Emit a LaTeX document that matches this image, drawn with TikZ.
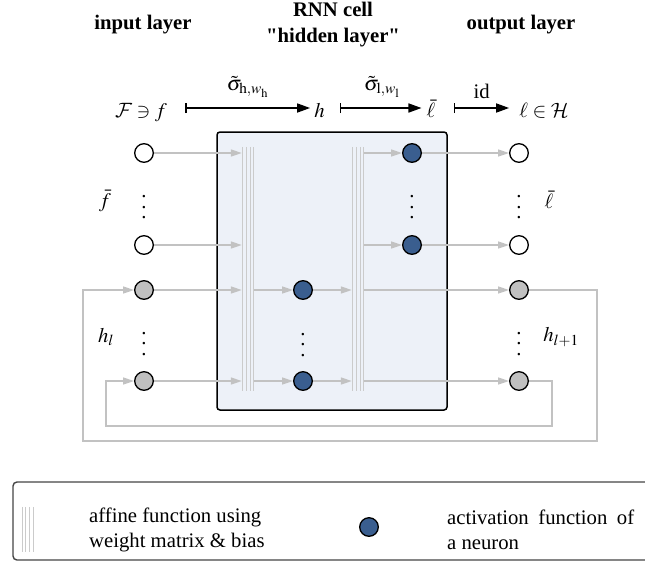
\documentclass[tikz,border=0pt]{standalone}
\usepackage{mathptmx}
\usepackage{fontspec}
\setmainfont{Liberation Serif}
\newfontfamily\qfont{Liberation Serif}
\DeclareMathAlphabet{\mathcal}{OMS}{cmsy}{m}{n}
\usetikzlibrary{arrows.meta}
\definecolor{boxfill}{HTML}{EDF1F8}
\definecolor{nblue}{HTML}{3A5E8F}
\definecolor{ngrey}{HTML}{C0C0C0}
\definecolor{connc}{HTML}{C2C2C2}
\definecolor{barc}{HTML}{CBCBCB}
\definecolor{legc}{HTML}{454545}
\newcommand{\myvdots}{\vbox{\baselineskip=10.5pt\lineskiplimit=0pt\hbox{.}\hbox{.}\hbox{.}}}
\begin{document}
\begin{tikzpicture}[x=1pt,y=-1pt,
  every node/.style={font=\fontsize{20.7}{25}\selectfont, inner sep=0pt},
  titlelbl/.style={font=\fontsize{20.7}{26}\selectfont\bfseries, align=center},
  neu/.style={circle, draw=black, line width=1.3pt, minimum size=18.6pt, inner sep=0pt},
  inp/.style={neu, fill=white},
  rec/.style={neu, fill=ngrey},
  act/.style={neu, fill=nblue},
  conn/.style={draw=connc, line width=1.3pt, -{Triangle[length=11pt,width=7pt]}},
  mapsto/.style={draw=black, line width=1.6pt, {Bar[width=10pt]}-{Triangle[length=13pt,width=9pt]}},
  barnode/.style={minimum width=12pt, minimum height=244pt, inner sep=0pt},
  barline/.style={draw=barc, line width=0.9pt},
  cellbox/.style={draw=black, fill=boxfill, line width=1.5pt, rounded corners=3pt},
  legbox/.style={draw=legc, fill=white, line width=1.4pt, rounded corners=4pt},
  vd/.style={inner sep=0pt}
]
\useasboundingbox (0,0) rectangle (645,563);

% titles
\node[titlelbl] (tin) at (143,25) {input layer};
\node[titlelbl] (trnn) at (333,25) {RNN cell\\{\qfont"}hidden layer{\qfont"}};
\node[titlelbl] (tout) at (521,25) {output layer};

% math row
\coordinate (ar) at (0,108);
\node[anchor=base] (F) at (141,117) {$\mathcal{F}\ni f$};
\node[anchor=base] (h) at (319.5,117) {$h$};
\node[anchor=base] (lb) at (431,117) {$\bar\ell$};
\node[anchor=base] (L) at (544,117) {$\ell\in\mathcal{H}$};
\draw[mapsto, shorten <=18pt, shorten >=4pt] (F.east |- ar) -- node[pos=0.548, above=10pt] (s1) {$\tilde\sigma_{\mathrm{h},w_{\mathrm{h}}}$} (h.west |- ar);
\draw[mapsto, shorten <=15pt, shorten >=5pt] (h.east |- ar) -- node[pos=0.561, above=10pt] (s2) {$\tilde\sigma_{\mathrm{l},w_{\mathrm{l}}}$} (lb.west |- ar);
\draw[mapsto, shorten <=18pt, shorten >=10pt] (lb.east |- ar) -- node[pos=0.551, above=9pt] (s3) {id} (L.west |- ar);

% RNN cell box
\node[cellbox, minimum width=230pt, minimum height=278pt] (cell) at (332,271) {};

% bars
\node[barnode] (bar1) at (248,269) {};
\node[barnode] (bar2) at (358,269) {};

% neurons
\node[inp] (in1) at (144,153) {};
\node[inp] (in2) at (144,245) {};
\node[rec] (in3) at (144,290) {};
\node[rec] (in4) at (144,381) {};
\node[act] (hid1) at (303,290) {};
\node[act] (hid2) at (303,381) {};
\node[act] (bo1) at (412,153) {};
\node[act] (bo2) at (412,245) {};
\node[inp] (out1) at (519,153) {};
\node[inp] (out2) at (519,245) {};
\node[rec] (out3) at (519,290) {};
\node[rec] (out4) at (519,381) {};

% dots
\node[vd] (d1) at (144,207.5) {\myvdots};
\node[vd] (d2) at (144,344) {\myvdots};
\node[vd] (d3) at (303,345) {\myvdots};
\node[vd] (d4) at (412,207.5) {\myvdots};
\node[vd] (d5) at (519,207.5) {\myvdots};
\node[vd] (d6) at (519,344) {\myvdots};

% side labels
\node (fbar) at (105,201) {$\bar f$};
\node (lbar) at (549,200) {$\bar\ell$};
\node (hl) at (106,337) {$h_l$};
\node (hl1) at (561,337) {$h_{l+1}$};

% connectors
\draw[conn] (in1.east) -- (in1 -| bar1.west);
\draw[conn] (in2.east) -- (in2 -| bar1.west);
\draw[conn] (in3.east) -- (in3 -| bar1.west);
\draw[conn] (in4.east) -- (in4 -| bar1.west);
\draw[conn] (hid1 -| bar1.east) -- (hid1.west);
\draw[conn] (hid2 -| bar1.east) -- (hid2.west);
\draw[conn] (hid1.east) -- (hid1 -| bar2.west);
\draw[conn] (hid2.east) -- (hid2 -| bar2.west);
\draw[conn] (bo1 -| bar2.east) -- (bo1.west);
\draw[conn] (bo2 -| bar2.east) -- (bo2.west);
\draw[conn] (bo1.east) -- (out1.west);
\draw[conn] (bo2.east) -- (out2.west);
\draw[conn] (out3 -| bar2.east) -- (out3.west);
\draw[conn] (out4 -| bar2.east) -- (out4.west);

\coordinate (lo1) at (597,441);
\coordinate (lo2) at (83,441);
\coordinate (li1) at (552,426);
\coordinate (li2) at (106,426);
\draw[conn] (out3.east) -| (lo1) -- (lo2) |- (in3.west);
\draw[conn] (out4.east) -| (li1) -- (li2) |- (in4.west);

\foreach \b in {bar1,bar2}
  \foreach \dx in {-5.85,-1.95,1.95,5.85}
    \draw[barline] ([xshift=\dx pt]\b.north) -- ([xshift=\dx pt]\b.south);

% legend
\draw[legbox] (13,482) rectangle (690,560);
\node[minimum width=11pt, minimum height=45pt] (legbar) at (27.5,529.5) {};
\foreach \dx in {-5.5,-1.85,1.85,5.5}
  \draw[barline, line width=0.8pt] ([xshift=\dx pt]legbar.north) -- ([xshift=\dx pt]legbar.south);
\node[anchor=west, align=left] (lt1) at (89,529.5) {affine function using\\weight matrix \& bias};
\node[act] (lc) at (369,527) {};
\node[anchor=west, align=left] (lt2) at (447,529.5) {\makebox[187pt][s]{activation function of}\\a neuron};
\end{tikzpicture}
\end{document}
